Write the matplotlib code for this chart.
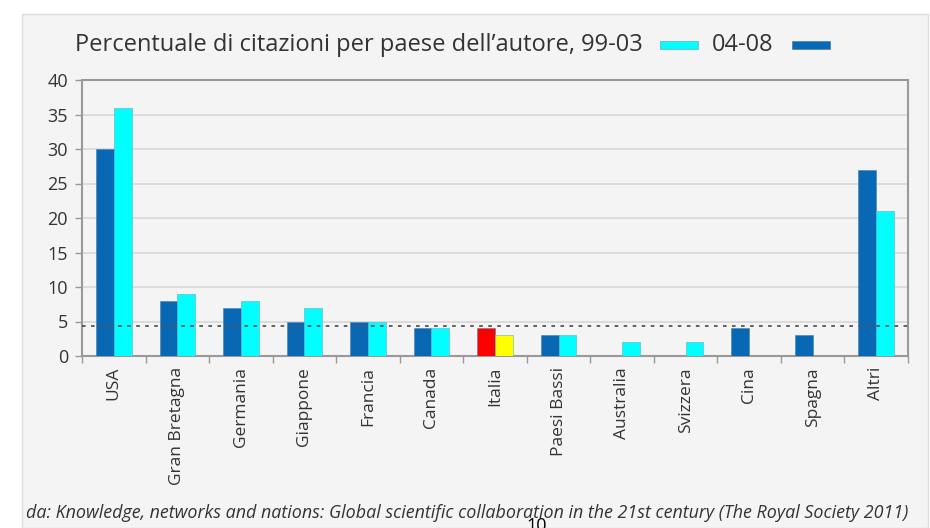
import numpy as np
import matplotlib
matplotlib.use("Agg")
import matplotlib.pyplot as plt
from matplotlib.patches import Rectangle

paesi = ["USA", "Gran Bretagna", "Germania", "Giappone", "Francia", "Canada",
         "Italia", "Paesi Bassi", "Australia", "Svizzera", "Cina", "Spagna", "Altri"]
val_0408 = [30, 8, 7, 5, 5, 4, 4, 3, 0, 0, 4, 3, 27]
val_9903 = [36, 9, 8, 7, 5, 4, 3, 3, 2, 2, 0, 0, 21]
soglia = 4.3
yticks = [0, 5, 10, 15, 20, 25, 30, 35, 40]

BLU = "#0868b4"
CIANO = "#00ffff"
FONDO = "#f4f4f4"

plt.rcParams["font.family"] = ["Open Sans", "DejaVu Sans"]

fig = plt.figure(figsize=(9.3, 5.28), dpi=100)
fig.patch.set_facecolor("white")
# pannello grigio come nella slide
fig.patches.append(Rectangle((22 / 930, 0), 1 - 24 / 930, 1 - 14 / 528,
                             transform=fig.transFigure, facecolor=FONDO,
                             edgecolor="#dddddd", linewidth=1, zorder=-5))

ax = fig.add_axes([82 / 930, 1 - 356 / 528, 826 / 930, 276 / 528])
ax.set_facecolor(FONDO)

x = np.arange(len(paesi))
w = 0.28
col_scuri = [BLU] * len(paesi)
col_chiari = [CIANO] * len(paesi)
i_it = paesi.index("Italia")
col_scuri[i_it] = "#ff0000"
col_chiari[i_it] = "#ffff00"

ax.bar(x - w / 2, val_0408, w, color=col_scuri, edgecolor="#4a7fa8", linewidth=0.4, zorder=3)
ax.bar(x + w / 2, val_9903, w, color=col_chiari, edgecolor="#6aa8c8", linewidth=0.4, zorder=3)

ax.axhline(soglia, color="#555555", linestyle=(0, (2, 3)), linewidth=1.3, zorder=4)

ax.set_xlim(-0.5, len(paesi) - 0.5)
ax.set_ylim(0, 40)
ax.set_yticks(yticks)
ax.yaxis.grid(True, color="#d8d8d8", linewidth=1.2, zorder=0)
ax.set_axisbelow(True)

ax.set_xticks(x)
ax.set_xticklabels(paesi, rotation=90, fontsize=12.5, color="#333333")
ax.set_xticks(np.arange(len(paesi) + 1) - 0.5, minor=True)
ax.tick_params(axis="x", which="major", length=0, pad=8)
ax.tick_params(axis="x", which="minor", length=5, color="#999999", width=1)
ax.tick_params(axis="y", length=5, color="#999999", width=1, labelsize=13,
               labelcolor="#333333", pad=5)
for s in ax.spines.values():
    s.set_color("#999999")
    s.set_linewidth(1.5)

fig.text(75 / 930, 1 - 45 / 528, "Percentuale di citazioni per paese dell\u2019autore, 99-03",
         fontsize=17, color="#333333", va="center", ha="left")
fig.patches.append(Rectangle((660 / 930, 1 - 49 / 528), 38 / 930, 8 / 528,
                             transform=fig.transFigure, facecolor=CIANO,
                             edgecolor="#6aa8c8", linewidth=0.5))
fig.text(712 / 930, 1 - 45 / 528, "04-08", fontsize=17, color="#333333",
         va="center", ha="left")
fig.patches.append(Rectangle((792 / 930, 1 - 49 / 528), 38 / 930, 8 / 528,
                             transform=fig.transFigure, facecolor=BLU,
                             edgecolor="#4a7fa8", linewidth=0.5))

fig.text(26 / 930, 1 - 513 / 528,
         "da: Knowledge, networks and nations: Global scientific collaboration in the 21st century (The Royal Society 2011)",
         fontsize=12.9, style="italic", color="#333333", va="center", ha="left")
fig.text(537 / 930, -7 / 528, "10", fontsize=13, color="black", ha="center", va="bottom")

fig.savefig("out.png", dpi=100, facecolor="white")
